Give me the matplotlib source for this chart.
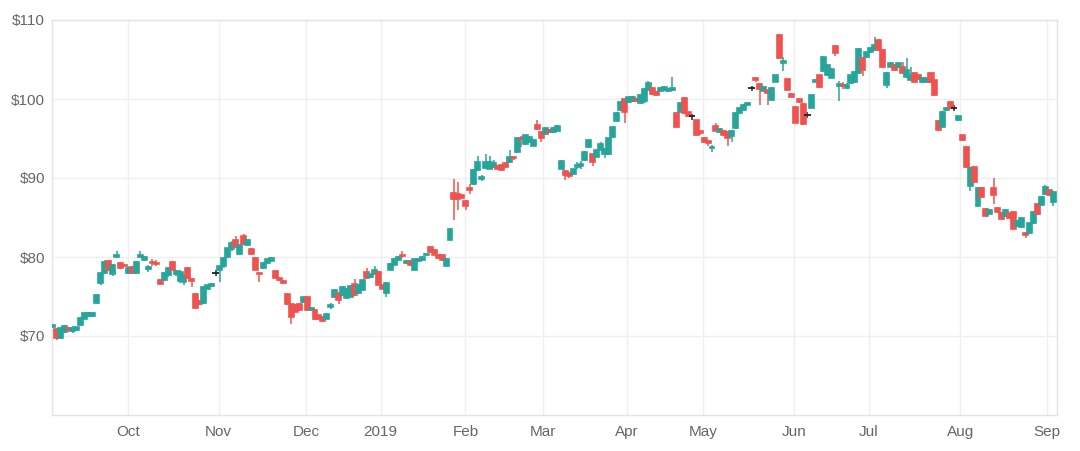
import numpy as np
import matplotlib
matplotlib.use("Agg")
import matplotlib.pyplot as plt
from matplotlib.ticker import FuncFormatter

# ─────────────────────────────────────────────
# DATA  — daily OHLC, one row per trading session (Sep 2018 → Sep 2019)
# ─────────────────────────────────────────────
OPENS = [
    71.2, 70.9, 69.8, 70.5, 71.0, 70.6, 70.8, 71.4, 72.2, 72.5,
    72.5, 74.2, 76.7, 78.0, 79.5, 77.8, 80.0, 79.2, 79.0, 78.0,
    78.7, 78.0, 80.0, 79.6, 78.5, 79.4, 79.3, 77.1, 77.1, 77.7,
    79.4, 77.9, 76.9, 76.8, 78.6, 77.2, 75.3, 74.4, 74.2, 76.0,
    76.3, 78.0, 78.4, 78.8, 80.0, 81.0, 82.2, 80.4, 82.7, 81.5,
    81.0, 79.9, 78.0, 78.6, 79.2, 79.5, 78.2, 77.4, 77.0, 75.3,
    74.0, 73.9, 74.1, 74.3, 74.9, 73.3, 73.3, 72.6, 72.4, 72.2,
    73.7, 74.9, 75.4, 75.2, 74.8, 75.0, 76.6, 75.4, 75.8, 78.1,
    77.5, 77.9, 78.1, 76.4, 75.4, 78.4, 79.0, 79.6, 80.3, 79.2,
    79.5, 78.4, 79.5, 79.6, 80.2, 81.3, 80.9, 80.3, 80.2, 78.9,
    82.2, 88.1, 88.0, 87.9, 87.1, 88.7, 89.2, 91.0, 89.9, 91.3,
    91.2, 91.4, 91.5, 91.6, 91.9, 92.0, 92.7, 93.3, 95.1, 94.3,
    94.5, 94.1, 96.7, 95.8, 95.6, 96.1, 95.8, 96.0, 91.2, 90.9,
    90.6, 90.5, 91.4, 91.5, 92.3, 93.9, 93.0, 92.7, 93.6, 93.0,
    93.0, 95.2, 97.2, 98.6, 100.0, 99.6, 99.7, 100.0, 99.5, 99.8,
    101.1, 101.4, 100.9, 101.0, 101.1, 101.0, 101.1, 98.2, 98.4, 100.1,
    98.4, 97.8, 97.3, 95.9, 95.1, 94.7, 93.8, 96.6, 95.8, 96.0,
    95.8, 95.3, 96.3, 98.2, 98.6, 99.2, 101.4, 102.6, 101.9, 101.0,
    101.1, 99.9, 102.2, 108.1, 104.6, 102.5, 100.6, 99.0, 100.0, 99.4,
    98.0, 98.9, 102.2, 103.0, 103.5, 103.0, 102.7, 106.7, 101.7, 101.8,
    101.4, 102.0, 102.1, 103.3, 105.2, 105.3, 105.9, 106.2, 107.5, 106.2,
    101.8, 104.1, 104.3, 104.0, 104.1, 102.8, 102.4, 103.3, 103.1, 102.1,
    102.2, 103.3, 102.4, 97.2, 96.5, 98.6, 99.6, 98.9, 97.3, 95.4,
    93.9, 89.0, 91.4, 86.4, 88.7, 86.1, 85.5, 88.7, 86.2, 85.6,
    85.2, 85.6, 85.7, 83.9, 83.8, 83.0, 83.0, 84.3, 86.7, 86.6,
    88.0, 88.5, 87.0,
]
HIGHS = [
    71.5, 71.0, 71.1, 71.4, 71.2, 71.3, 71.2, 72.4, 73.0, 73.1,
    73.0, 75.3, 78.1, 79.6, 79.6, 79.1, 80.8, 79.4, 79.1, 78.8,
    78.8, 79.5, 80.7, 80.1, 79.0, 79.7, 79.6, 77.2, 78.1, 78.7,
    79.5, 78.4, 78.3, 77.8, 78.7, 77.3, 75.4, 74.5, 76.3, 76.5,
    76.7, 78.3, 78.9, 80.0, 81.2, 82.0, 82.6, 81.6, 82.9, 82.3,
    81.1, 80.0, 78.1, 79.4, 79.8, 80.0, 78.3, 77.5, 77.1, 75.4,
    74.1, 74.0, 74.2, 75.0, 75.0, 73.7, 73.4, 72.7, 72.5, 72.9,
    74.2, 75.9, 75.5, 76.3, 76.1, 76.4, 77.2, 76.6, 77.2, 78.6,
    77.9, 78.9, 78.2, 76.5, 76.8, 79.2, 79.9, 80.1, 80.7, 79.6,
    79.6, 79.8, 79.9, 80.1, 80.5, 81.4, 81.0, 80.4, 80.3, 79.9,
    83.7, 89.9, 89.5, 88.0, 87.2, 89.3, 91.1, 92.8, 90.4, 93.0,
    92.8, 92.3, 91.7, 91.7, 92.0, 93.6, 92.8, 95.1, 95.3, 95.5,
    95.3, 94.9, 97.4, 95.9, 96.4, 96.2, 96.4, 96.7, 92.3, 91.0,
    90.7, 91.2, 92.0, 92.1, 93.4, 94.9, 93.1, 93.6, 94.6, 93.8,
    95.1, 96.6, 98.3, 99.7, 100.1, 100.3, 100.4, 100.1, 100.6, 101.4,
    102.3, 101.5, 101.0, 101.5, 101.6, 101.4, 102.8, 98.3, 99.6, 100.2,
    98.5, 98.1, 97.4, 96.0, 95.2, 94.8, 94.2, 96.9, 96.3, 96.1,
    95.9, 96.1, 98.3, 99.0, 99.4, 99.6, 101.7, 102.7, 102.0, 101.6,
    101.2, 101.5, 103.1, 108.2, 105.3, 102.6, 100.7, 99.1, 100.1, 99.5,
    98.4, 100.6, 102.5, 103.1, 105.4, 104.4, 103.9, 106.8, 102.3, 102.2,
    102.0, 103.1, 103.5, 106.4, 105.3, 106.0, 106.6, 107.9, 107.6, 106.3,
    103.4, 104.7, 104.4, 104.6, 104.7, 105.2, 104.1, 103.4, 103.2, 102.8,
    102.7, 103.4, 103.4, 97.3, 98.5, 99.0, 99.7, 99.3, 97.9, 95.5,
    94.0, 91.4, 91.5, 88.8, 88.8, 86.2, 86.1, 90.0, 86.3, 85.7,
    86.1, 85.7, 85.8, 84.7, 85.0, 83.2, 84.4, 85.8, 86.8, 87.7,
    89.1, 88.6, 88.3,
]
LOWS = [
    71.1, 69.5, 69.6, 70.4, 70.5, 70.4, 70.6, 71.3, 72.1, 72.4,
    72.4, 74.1, 76.5, 77.9, 78.2, 77.6, 79.9, 78.5, 78.7, 77.9,
    77.8, 77.9, 79.9, 79.5, 78.1, 78.9, 78.8, 76.5, 76.9, 77.5,
    78.3, 77.6, 76.7, 76.4, 77.2, 76.2, 73.4, 73.9, 74.1, 75.9,
    76.2, 77.6, 76.8, 78.6, 79.9, 80.8, 81.2, 80.3, 81.5, 81.4,
    80.3, 78.3, 76.8, 78.5, 79.1, 79.4, 77.3, 77.0, 76.6, 73.9,
    71.5, 73.0, 73.2, 74.2, 73.2, 73.2, 72.0, 72.1, 71.8, 72.1,
    73.4, 74.8, 74.0, 75.1, 74.7, 74.9, 75.1, 75.3, 75.7, 77.2,
    77.4, 77.8, 76.4, 75.9, 74.9, 78.3, 78.9, 79.5, 79.9, 79.1,
    78.9, 78.3, 79.4, 79.5, 80.1, 80.5, 80.2, 79.8, 79.5, 78.8,
    82.1, 84.7, 86.0, 87.3, 86.0, 88.0, 89.1, 90.9, 89.6, 91.2,
    91.1, 91.3, 91.0, 90.9, 91.3, 91.9, 92.3, 93.2, 93.9, 94.2,
    94.4, 94.0, 96.1, 94.5, 95.5, 95.7, 95.7, 95.9, 91.1, 89.7,
    90.0, 90.4, 91.2, 91.2, 92.2, 93.8, 91.5, 92.6, 93.5, 92.5,
    92.9, 95.1, 97.1, 98.5, 97.0, 99.5, 99.6, 99.6, 99.4, 99.5,
    101.0, 100.5, 100.4, 100.9, 101.0, 100.9, 101.0, 96.3, 98.3, 98.1,
    97.7, 97.4, 95.3, 95.5, 94.4, 94.1, 93.3, 95.9, 95.7, 95.3,
    94.1, 94.6, 96.2, 98.1, 98.5, 99.1, 101.0, 102.2, 99.3, 100.9,
    99.2, 99.8, 102.1, 105.1, 103.5, 101.0, 100.2, 96.9, 99.5, 96.7,
    97.6, 98.8, 102.1, 101.4, 103.4, 102.9, 102.6, 105.5, 99.8, 101.3,
    101.3, 101.9, 102.0, 103.2, 102.9, 105.2, 105.8, 106.1, 106.1, 103.9,
    101.4, 104.0, 103.6, 103.9, 103.2, 102.7, 102.3, 102.1, 102.4, 102.0,
    102.1, 102.0, 100.4, 96.0, 96.4, 98.5, 98.8, 98.5, 97.2, 94.7,
    91.3, 88.3, 89.4, 86.3, 87.5, 85.1, 85.4, 86.7, 85.6, 84.7,
    85.1, 84.9, 83.5, 83.8, 83.7, 82.4, 82.9, 84.2, 85.3, 86.5,
    87.9, 87.7, 86.5,
]
CLOSES = [
    71.4, 69.7, 71.0, 71.3, 70.7, 71.0, 71.1, 72.3, 72.9, 72.9,
    72.9, 75.2, 78.0, 79.4, 78.3, 79.0, 80.3, 78.6, 78.8, 78.6,
    78.0, 79.4, 80.3, 80.0, 78.7, 79.2, 79.1, 76.6, 78.0, 78.6,
    78.4, 78.2, 78.1, 77.6, 77.3, 77.0, 73.5, 74.0, 76.2, 76.4,
    76.6, 78.0, 78.8, 79.9, 81.1, 81.8, 81.3, 81.5, 81.6, 82.2,
    80.4, 78.4, 77.8, 79.3, 79.7, 79.9, 77.4, 77.1, 76.7, 74.0,
    72.4, 73.1, 73.3, 74.9, 73.3, 73.6, 72.1, 72.2, 71.9, 72.8,
    73.9, 75.8, 74.5, 76.2, 76.0, 76.3, 75.2, 76.5, 77.1, 77.3,
    77.8, 78.4, 76.5, 76.0, 76.7, 79.1, 79.8, 80.0, 80.1, 79.5,
    79.0, 79.7, 79.8, 80.0, 80.4, 80.6, 80.3, 79.9, 79.6, 79.8,
    83.6, 87.3, 87.4, 87.5, 86.5, 88.5, 91.0, 92.0, 90.1, 92.0,
    92.0, 91.9, 91.2, 91.0, 91.4, 92.7, 92.5, 95.0, 94.9, 95.4,
    95.2, 94.8, 96.2, 95.1, 96.3, 95.8, 96.3, 96.6, 92.2, 90.4,
    90.2, 91.1, 91.7, 91.8, 93.3, 94.8, 92.0, 93.5, 94.3, 93.7,
    95.0, 96.5, 98.2, 99.6, 98.4, 100.2, 100.3, 99.8, 100.5, 101.3,
    102.0, 100.6, 100.5, 101.4, 101.5, 101.3, 101.4, 96.4, 99.5, 98.2,
    97.8, 97.8, 95.4, 95.7, 94.5, 94.4, 93.9, 96.0, 96.2, 95.4,
    95.1, 96.0, 98.2, 98.9, 99.3, 99.5, 101.4, 102.4, 101.3, 101.5,
    100.8, 101.4, 103.0, 105.2, 104.8, 101.1, 100.3, 97.0, 99.6, 96.8,
    98.0, 100.5, 102.4, 101.5, 105.3, 104.3, 103.8, 105.8, 101.9, 101.6,
    101.8, 103.0, 103.4, 106.3, 103.7, 105.9, 106.5, 106.8, 106.2, 104.0,
    103.3, 104.6, 103.7, 104.5, 103.3, 103.7, 103.1, 102.2, 102.5, 102.7,
    102.6, 102.1, 100.5, 96.1, 98.4, 98.9, 98.9, 98.9, 97.8, 94.8,
    91.4, 91.3, 89.5, 88.7, 87.6, 85.2, 86.0, 87.8, 85.7, 84.8,
    86.0, 85.0, 83.6, 84.6, 84.9, 82.8, 84.3, 85.7, 85.4, 87.6,
    88.9, 87.8, 88.2,
]

MONTH_LABELS = ["Oct", "Nov", "Dec", "2019", "Feb", "Mar",
                "Apr", "May", "Jun", "Jul", "Aug", "Sep"]
# session index where each month label sits
MONTH_POS = [18.8, 41.7, 63.7, 82.5, 103.9, 123.5,
             144.5, 163.8, 186.7, 205.5, 228.5, 250.4]
PRICE_TICKS = [70, 80, 90, 100, 110]

UP_COLOR   = "#26a69a"
DOWN_COLOR = "#ef5350"
FLAT_COLOR = "#222222"
BODY_WIDTH = 1.25

plt.rcParams["font.family"] = ["Liberation Sans", "DejaVu Sans"]


def main():
    o = np.array(OPENS)
    h = np.array(HIGHS)
    l = np.array(LOWS)
    c = np.array(CLOSES)
    x = np.arange(len(o))

    colors = np.where(c > o, UP_COLOR, np.where(c < o, DOWN_COLOR, FLAT_COLOR))
    flat = c == o

    fig = plt.figure(figsize=(10.8, 4.51), dpi=100)
    ax = fig.add_axes([52 / 1080, 1 - 415 / 451, (1057 - 52) / 1080, (415 - 20) / 451])

    # wicks, then bodies (stroked in their own colour so thin bodies stay visible)
    ax.vlines(x, l, h, colors=colors, linewidth=1.1, zorder=2)
    ax.bar(x[~flat], np.abs(c - o)[~flat], bottom=np.minimum(o, c)[~flat],
           width=BODY_WIDTH, color=colors[~flat], edgecolor=colors[~flat],
           linewidth=1.2, zorder=3)
    # doji sessions: open == close -> black cross
    ax.hlines(o[flat], x[flat] - BODY_WIDTH / 2 - 0.2, x[flat] + BODY_WIDTH / 2 + 0.2,
              colors=FLAT_COLOR, linewidth=1.3, zorder=3)

    ax.set_xlim(-0.25, 252.9)
    ax.set_ylim(60, 110)
    ax.set_xticks(MONTH_POS)
    ax.set_xticklabels(MONTH_LABELS)
    ax.set_yticks(PRICE_TICKS)
    ax.yaxis.set_major_formatter(FuncFormatter(lambda v, _: f"${v:.0f}"))

    ax.set_axisbelow(True)
    ax.grid(True, color="#efefef", linewidth=1.0)
    for sp in ax.spines.values():
        sp.set_color("#e3e3e3")
        sp.set_linewidth(1.0)
    ax.tick_params(length=0, labelsize=11, labelcolor="#666666")
    ax.tick_params(axis="x", pad=7)
    ax.tick_params(axis="y", pad=5)

    fig.savefig("out.png", dpi=100)
    plt.close(fig)


if __name__ == "__main__":
    main()
